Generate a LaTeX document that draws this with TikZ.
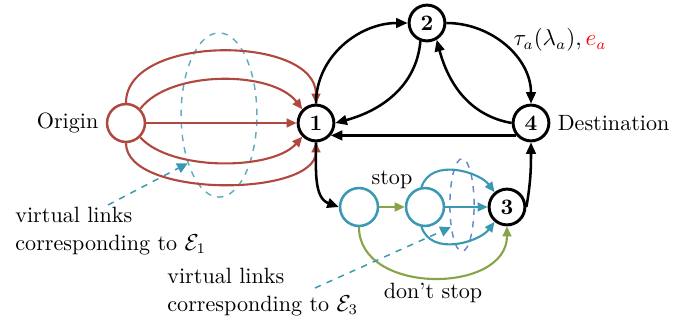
\documentclass[tikz,border=0pt]{standalone}
\usepackage{tikz}
\usetikzlibrary{arrows.meta}
\usetikzlibrary{calc}
\usetikzlibrary{shapes.geometric}
\usetikzlibrary{positioning}
\usepackage{amsmath}
\definecolor{linkred}{RGB}{176,72,64}
\definecolor{stopteal}{RGB}{58,152,178}
\definecolor{stopgreen}{RGB}{134,164,72}
\definecolor{setblue}{RGB}{100,140,205}

\begin{document}
\begin{tikzpicture}[->,>={Triangle[length=4.8pt,width=4.2pt]},auto,x=0.475pt,y=0.475pt,font=\fontsize{10.5}{13}\selectfont]
		\tikzstyle{road}=[circle,draw,line width=1.4pt,minimum size=17pt,inner sep=0pt,font=\fontsize{10.5}{13}\selectfont\bfseries];
		\tikzstyle{origin}=[circle,draw=linkred,line width=1.2pt,minimum size=18pt,inner sep=0pt];
		\tikzstyle{station}=[circle,draw=stopteal,line width=1.2pt,minimum size=18pt,inner sep=0pt];
		\tikzstyle{blackarc}=[line width=1.2pt,>={Triangle[length=5.5pt,width=4.6pt]}];
		\tikzstyle{redarc}=[color=linkred,line width=1pt];
		\tikzstyle{tealarc}=[color=stopteal,line width=1pt];
		\tikzstyle{greenarc}=[color=stopgreen,line width=1pt];
		\tikzstyle{linkset}=[-,ellipse,draw,dashed,line width=0.7pt,inner sep=0pt];
		\tikzstyle{pointer}=[color=stopteal,dashed,line width=0.7pt,>={Triangle[length=5pt,width=5pt]}];
		\useasboundingbox(0,0)rectangle(690,324);

		\node[origin](o)at(126,201){};
		\node[road](1)at(316,201){1};
		\node[road](2)at(427,301){2};
		\node[road](4)at(531,201){4};
		\node[road](3)at(507,117){3};
		\node[station](a)at(359,117){};
		\node[station](b)at(425,117){};
		\node[left=0pt of o](olab){Origin};
		\node[right=0pt of 4](dlab){Destination};
		\node(cost)at(560,284){$\tau_a(\lambda_a),{\color{red}e_a}$};

		\node[linkset,draw=stopteal!80,minimum width=36pt,minimum height=78pt](e1)at(219,209){};
		\node[linkset,draw=setblue,minimum width=11.5pt,minimum height=44pt](e3)at(462,119){};

		\draw[redarc](o.north)..controls +(0,69) and +(0,69)..(1.north);
		\draw[redarc](o.45)..controls +(30,39) and +(-30,39)..(1.135);
		\draw[redarc](o)--(1);
		\draw[redarc](o.-45)..controls +(30,-34) and +(-30,-34)..(1.-135);
		\draw[redarc](o.south)..controls +(0,-55) and +(0,-55)..(1.south);

		\draw[blackarc](1.north)to[out=90,in=180](2.west);
		\draw[blackarc](2.250)to[out=265,in=15](1.east);
		\draw[blackarc](2.east)to[out=0,in=90](4.north);
		\draw[blackarc](4.west)to[out=170,in=285](2.300);
		\draw[blackarc](4.220)--(1.320);
		\draw[blackarc](1.south)to[out=270,in=160](a.west);
		\draw[blackarc](3.east)to[out=80,in=270](4.south);

		\draw[greenarc](a)--node[above=5pt,black](stoplab){stop}(b);
		\draw[greenarc](a.south)..controls +(0,-68) and +(0,-68)..node[below,black,inner sep=2pt](nostoplab){don't stop}(3.south);
		\draw[tealarc](b.100)..controls +(10,30) and +(-15,20)..(3.130);
		\draw[tealarc](b)--(3);
		\draw[tealarc](b.260)..controls +(10,-30) and +(-15,-20)..(3.230);

		\node[align=left,anchor=west,inner sep=0pt](e1lab)at(15,93){virtual links\\corresponding to $\mathcal{E}_1$};
		\node[align=left,anchor=west,inner sep=0pt](e3lab)at(167,32){virtual links\\corresponding to $\mathcal{E}_3$};
		\coordinate(e1from)at(108,119);
		\coordinate(e3from)at(315,36);
		\draw[pointer](e1from)--(e1.237);
		\draw[pointer](e3from)--(e3.243);
	\end{tikzpicture}
\end{document}
